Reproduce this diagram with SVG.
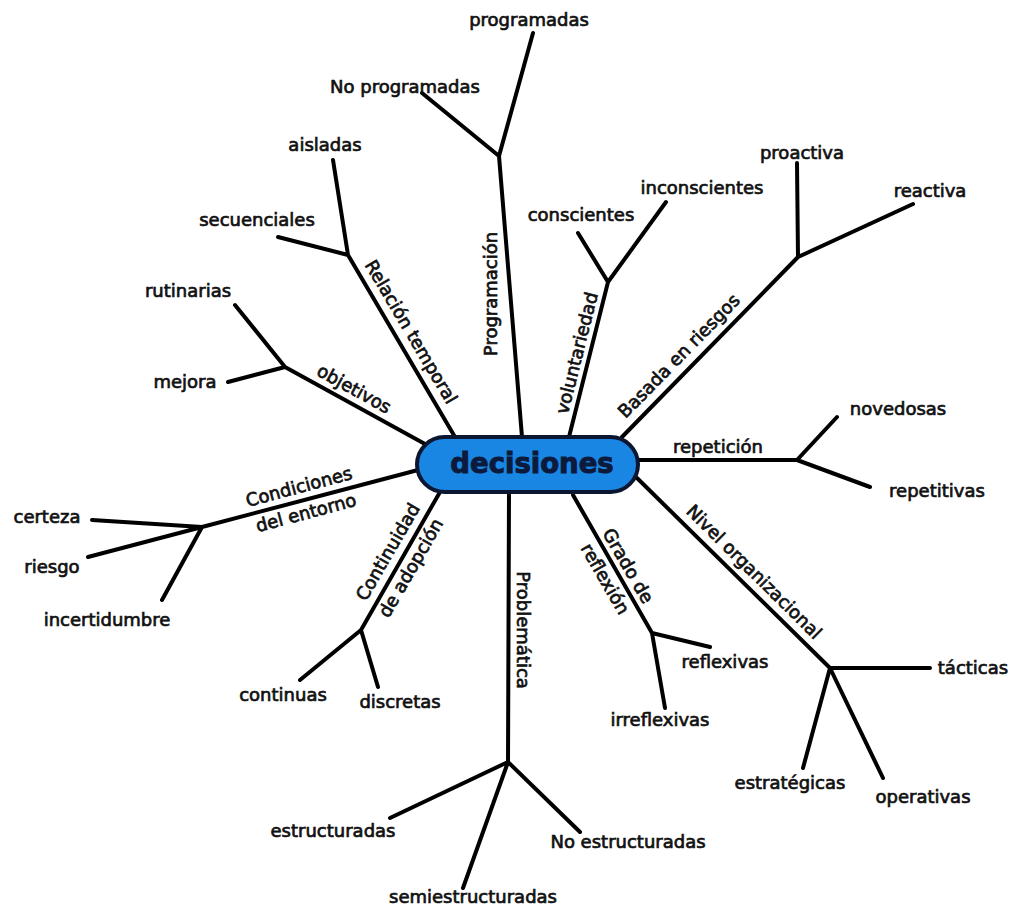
<svg xmlns="http://www.w3.org/2000/svg" width="1013" height="906" viewBox="0 0 1013 906">
<style>
  .ln { fill: none; stroke: #000; stroke-width: 4; stroke-linecap: round; stroke-linejoin: round; }
  .t { font-family: "DejaVu Sans", Verdana, sans-serif; font-size: 18px; fill: #111; stroke: #111; stroke-width: 0.7; text-anchor: middle; }
  .core { fill: #1a86e3; stroke: #0b1631; stroke-width: 4; }
  .coret { font-family: "DejaVu Sans", Verdana, sans-serif; font-size: 27.5px; font-weight: bold; fill: #0c1a3c; stroke: #0c1a3c; stroke-width: 1; text-anchor: middle; }
</style>
<rect width="1013" height="906" fill="#fff"/>
<g id="connectors">
  <!-- Programación -->
  <path class="ln" d="M522 437 L499 156 L533 33 M499 156 L422 93"/>
  <!-- Relación temporal -->
  <path class="ln" d="M455 437 L348 255 L333 160 M348 255 L278 237"/>
  <!-- objetivos -->
  <path class="ln" d="M425 444 L285 367 L235 305 M285 367 L228 382"/>
  <!-- voluntariedad -->
  <path class="ln" d="M569 437 L608 282 L578 233 M608 282 L666 202"/>
  <!-- Basada en riesgos -->
  <path class="ln" d="M622 437 L798 257 L797 163 M798 257 L913 204"/>
  <!-- repetición -->
  <path class="ln" d="M638 460 L797 460 L837 417 M797 460 L870 487"/>
  <!-- Nivel organizacional -->
  <path class="ln" d="M637 478 L830 668 L930 668 M830 668 L803 768 M830 668 L883 778"/>
  <!-- Grado de reflexión -->
  <path class="ln" d="M573 495 L652 633 L710 647 M652 633 L665 708"/>
  <!-- Problemática -->
  <path class="ln" d="M509 492 L508 762 L390 818 M508 762 L463 888 M508 762 L580 832"/>
  <!-- Continuidad de adopción -->
  <path class="ln" d="M440 492 L361 630 L300 680 M361 630 L378 687"/>
  <!-- Condiciones del entorno -->
  <path class="ln" d="M418 470 L202 527 L92 520 M202 527 L88 557 M202 527 L162 600"/>
</g>
<g id="decisiones">
  <rect class="core" x="417" y="437" width="221" height="55" rx="27.5" ry="27.5"/>
  <text class="coret" x="532" y="473">decisiones</text>
</g>
<g id="branch-labels">
  <text class="t" transform="translate(491 294) rotate(-90)" y="6">Programación</text>
  <text class="t" transform="translate(411 332) rotate(59.5)" y="6">Relación temporal</text>
  <text class="t" transform="translate(354 389) rotate(29)" y="6">objetivos</text>
  <text class="t" transform="translate(577 353) rotate(-76)" y="6">voluntariedad</text>
  <text class="t" transform="translate(679 356) rotate(-45.6)" y="6">Basada en riesgos</text>
  <text class="t" x="718" y="453">repetición</text>
  <text class="t" transform="translate(754 572) rotate(44.7)" y="6">Nivel organizacional</text>
  <text class="t" transform="translate(628 566) rotate(60)" y="6">Grado de</text>
  <text class="t" transform="translate(605 579) rotate(60)" y="6">reflexión</text>
  <text class="t" transform="translate(523 630) rotate(90)" y="6">Problemática</text>
  <text class="t" transform="translate(388 552) rotate(-60)" y="6">Continuidad</text>
  <text class="t" transform="translate(411 568) rotate(-60)" y="6">de adopción</text>
  <text class="t" transform="translate(299 487) rotate(-15)" y="6">Condiciones</text>
  <text class="t" transform="translate(306 513) rotate(-15)" y="6">del entorno</text>
</g>
<g id="leaf-programadas"><text class="t" x="529" y="26">programadas</text></g>
<g id="leaf-no-programadas"><text class="t" x="405" y="93">No programadas</text></g>
<g id="leaf-aisladas"><text class="t" x="325" y="151">aisladas</text></g>
<g id="leaf-secuenciales"><text class="t" x="257" y="226">secuenciales</text></g>
<g id="leaf-rutinarias"><text class="t" x="188" y="297">rutinarias</text></g>
<g id="leaf-mejora"><text class="t" x="185" y="388">mejora</text></g>
<g id="leaf-conscientes"><text class="t" x="581" y="221">conscientes</text></g>
<g id="leaf-inconscientes"><text class="t" x="702" y="194">inconscientes</text></g>
<g id="leaf-proactiva"><text class="t" x="802" y="159">proactiva</text></g>
<g id="leaf-reactiva"><text class="t" x="930" y="197">reactiva</text></g>
<g id="leaf-novedosas"><text class="t" x="898" y="415">novedosas</text></g>
<g id="leaf-repetitivas"><text class="t" x="937" y="497">repetitivas</text></g>
<g id="leaf-tacticas"><text class="t" x="973" y="674">tácticas</text></g>
<g id="leaf-estrategicas"><text class="t" x="790" y="789">estratégicas</text></g>
<g id="leaf-operativas"><text class="t" x="923" y="803">operativas</text></g>
<g id="leaf-reflexivas"><text class="t" x="725" y="668">reflexivas</text></g>
<g id="leaf-irreflexivas"><text class="t" x="660" y="726">irreflexivas</text></g>
<g id="leaf-estructuradas"><text class="t" x="333" y="837">estructuradas</text></g>
<g id="leaf-semiestructuradas"><text class="t" x="473" y="903">semiestructuradas</text></g>
<g id="leaf-no-estructuradas"><text class="t" x="628" y="848">No estructuradas</text></g>
<g id="leaf-continuas"><text class="t" x="283" y="701">continuas</text></g>
<g id="leaf-discretas"><text class="t" x="400" y="708">discretas</text></g>
<g id="leaf-certeza"><text class="t" x="47" y="523">certeza</text></g>
<g id="leaf-riesgo"><text class="t" x="52" y="573">riesgo</text></g>
<g id="leaf-incertidumbre"><text class="t" x="107" y="626">incertidumbre</text></g>
</svg>
